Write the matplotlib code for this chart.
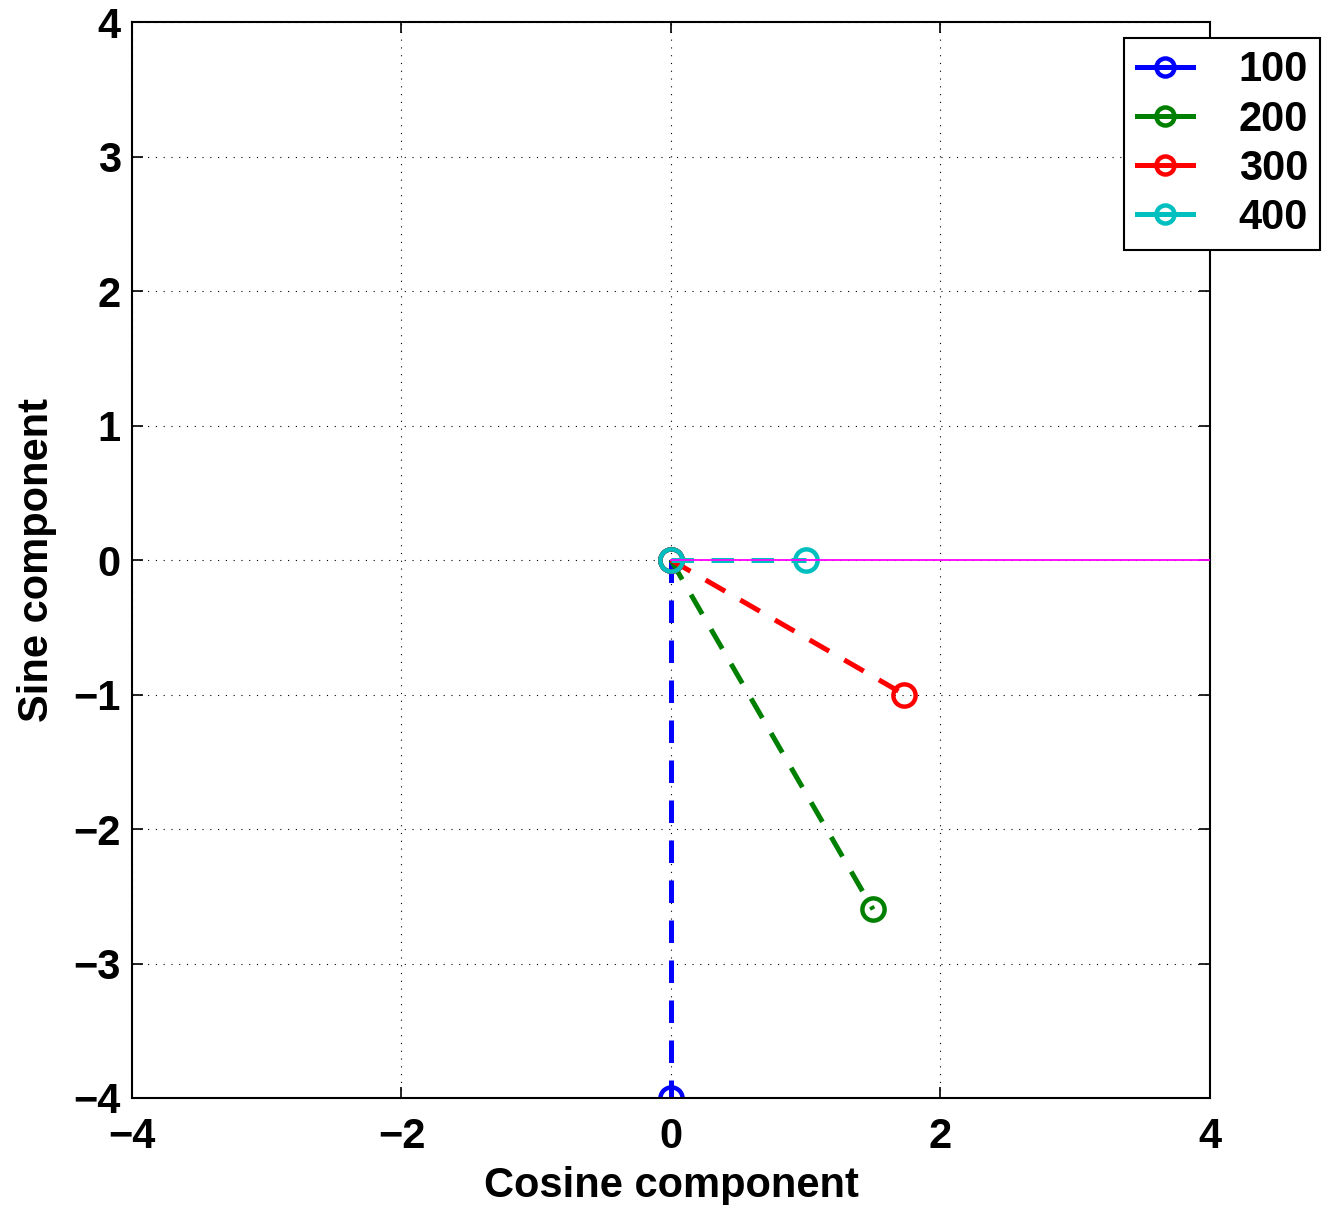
import numpy as np
import matplotlib
from matplotlib import pyplot as plt

matplotlib.rc('font', family=['Liberation Sans', 'DejaVu Sans'], weight='bold', size=30)
matplotlib.rc('axes', labelweight='bold')

# phasor for each frequency: magnitude and angle (degrees)
labels = ['100', '200', '300', '400']
magnitudes = [4.0, 3.0, 2.0, 1.0]
angles = [-90.0, -60.0, -30.0, 0.0]
colors = ['#0000ff', '#008000', '#ff0000', '#00bfbf']

# reference axis along the cosine direction
ref_x = [0, 4]
ref_y = [0, 0]

fig = plt.figure(figsize=(13.28, 12.05), dpi=100)
ax = fig.add_axes([0.0994, 0.0888, 0.8117, 0.8929])

for lab, m, a, c in zip(labels, magnitudes, angles, colors):
    x = m*np.cos(np.radians(a))
    y = m*np.sin(np.radians(a))
    ax.plot([0, x], [0, y], ls=(0, (4.5, 3.5)), lw=3.6, color=c, marker='o',
            ms=16, mfc='none', mew=3.2, label=lab)

ax.plot(ref_x, ref_y, color='#ff00ff', lw=1.3, zorder=5)

ax.set_xlim(-4, 4)
ax.set_ylim(-4, 4)
ax.set_xticks(range(-4, 5, 2))
ax.set_yticks(range(-4, 5, 1))
ax.set_xticklabels([str(t).replace('-', '\u2212') for t in range(-4, 5, 2)])
ax.set_yticklabels([str(t).replace('-', '\u2212') for t in range(-4, 5, 1)])
ax.grid(True, ls=(0, (1, 6)), color='k', lw=0.8)
ax.tick_params(direction='in', top=True, right=True, length=8, width=1.2)
ax.tick_params(axis='x', pad=14)
ax.tick_params(axis='y', pad=8)
for s in ax.spines.values():
    s.set_linewidth(1.5)

ax.set_xlabel('Cosine component', fontsize=30, labelpad=6)
ax.set_ylabel('Sine component', fontsize=30, labelpad=12)

leg = fig.legend(loc='upper left', bbox_to_anchor=(0.8464, 0.9685), fontsize=30,
                 handlelength=1.35, handletextpad=1.1, borderpad=0.3, labelspacing=0.22,
                 borderaxespad=0, fancybox=False, edgecolor='k', framealpha=1)
leg.get_frame().set_linewidth(1.5)
leg._legend_box.align = 'right'
for h in leg.legend_handles:
    h.set_linestyle('-')
    h.set_markersize(13)

fig.savefig('out.png', dpi=100)
